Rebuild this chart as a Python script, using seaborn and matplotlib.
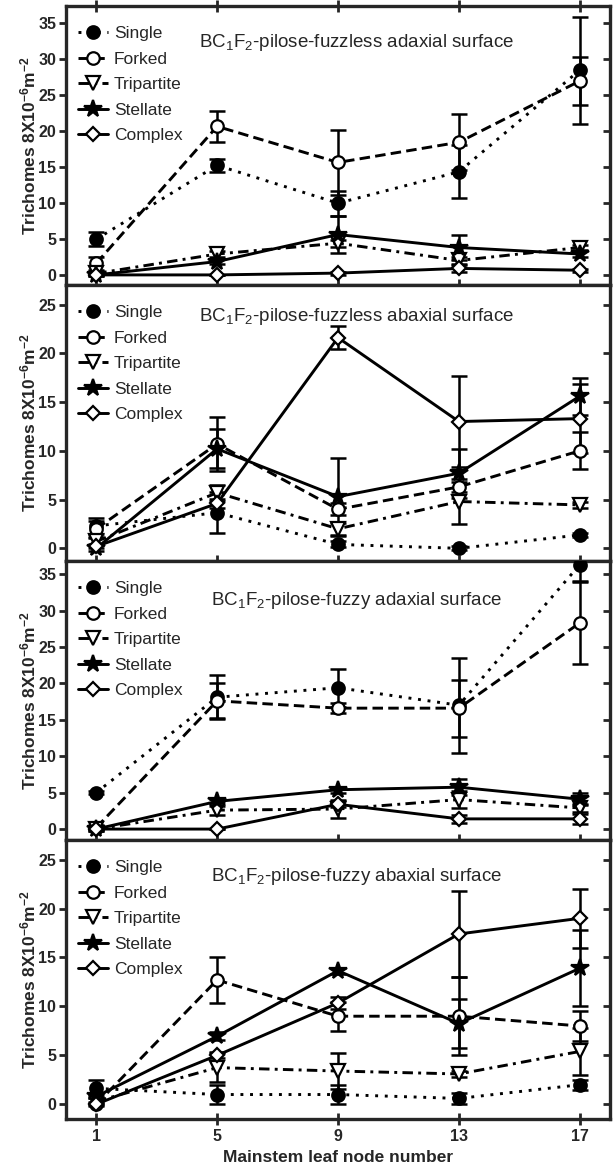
import numpy as np
import pandas as pd
import matplotlib
matplotlib.use("Agg")
import matplotlib.pyplot as plt
import seaborn as sns

sns.set_style("ticks")
plt.rcParams["font.family"] = ["Liberation Sans", "DejaVu Sans"]
plt.rcParams["mathtext.default"] = "regular"

# ---------------- data ----------------
nodes = [1, 5, 9, 13, 17]
types = ["Single", "Forked", "Tripartite", "Stellate", "Complex"]
panel_titles = [
    "BC$_1$F$_2$-pilose-fuzzless adaxial surface",
    "BC$_1$F$_2$-pilose-fuzzless abaxial surface",
    "BC$_1$F$_2$-pilose-fuzzy adaxial surface",
    "BC$_1$F$_2$-pilose-fuzzy abaxial surface",
]
y_ticks = [[0, 5, 10, 15, 20, 25, 30, 35], [0, 5, 10, 15, 20, 25],
           [0, 5, 10, 15, 20, 25, 30, 35], [0, 5, 10, 15, 20, 25]]
y_limits = [(-1.4, 37.3), (-1.3, 27.0), (-1.5, 36.8), (-1.5, 27.0)]

# rows: Single, Forked, Tripartite, Stellate, Complex ; columns: nodes
fuzzless_adaxial_mean = [
    [4.95, 15.2, 9.95, 14.3, 28.4],
    [1.6, 20.6, 15.6, 18.4, 26.9],
    [0.2, 2.9, 4.4, 2.0, 3.8],
    [0.0, 1.85, 5.6, 3.8, 2.9],
    [0.0, 0.0, 0.25, 0.9, 0.65],
]
fuzzless_adaxial_err = [
    [1.0, 0.9, 1.75, 3.7, 7.4],
    [0.9, 2.1, 4.5, 3.9, 3.3],
    [0.3, 0.4, 0.5, 0.5, 0.4],
    [0.2, 0.4, 2.6, 1.7, 0.4],
    [0.0, 0.0, 0.2, 0.5, 0.2],
]
fuzzless_abaxial_mean = [
    [2.3, 3.65, 0.4, 0.0, 1.37],
    [2.0, 10.7, 4.0, 6.3, 10.0],
    [0.7, 5.7, 2.0, 4.8, 4.45],
    [0.0, 10.2, 5.3, 7.7, 15.6],
    [0.2, 4.6, 21.6, 13.0, 13.3],
]
fuzzless_abaxial_err = [
    [0.8, 2.1, 0.3, 0.2, 0.2],
    [0.8, 2.8, 0.6, 0.5, 1.9],
    [0.4, 0.8, 0.6, 2.3, 0.3],
    [0.3, 2.0, 4.0, 2.5, 1.9],
    [0.2, 0.5, 1.2, 4.7, 3.5],
]
fuzzy_adaxial_mean = [
    [5.0, 18.1, 19.4, 17.0, 36.3],
    [0.2, 17.6, 16.6, 16.6, 28.3],
    [0.0, 2.6, 2.75, 4.05, 2.9],
    [0.0, 3.8, 5.4, 5.75, 4.1],
    [0.0, 0.0, 3.4, 1.4, 1.4],
]
fuzzy_adaxial_err = [
    [0.2, 3.0, 2.6, 6.5, 2.3],
    [0.3, 2.4, 0.7, 3.9, 5.6],
    [0.2, 0.6, 1.2, 1.15, 0.5],
    [0.2, 0.3, 0.4, 1.1, 0.8],
    [0.0, 0.0, 0.4, 0.5, 0.7],
]
fuzzy_abaxial_mean = [
    [1.63, 1.0, 1.0, 0.6, 2.0],
    [0.0, 12.7, 9.0, 9.0, 8.0],
    [0.3, 3.75, 3.4, 3.1, 5.4],
    [0.8, 6.95, 13.65, 8.25, 13.9],
    [0.0, 5.0, 10.35, 17.4, 19.0],
]
fuzzy_abaxial_err = [
    [0.9, 1.0, 1.0, 0.6, 0.5],
    [0.2, 2.3, 1.5, 4.0, 1.5],
    [0.3, 1.5, 1.8, 0.3, 2.4],
    [0.2, 0.4, 0.3, 2.5, 3.9],
    [0.1, 0.3, 0.6, 4.4, 3.0],
]
panel_means = [fuzzless_adaxial_mean, fuzzless_abaxial_mean, fuzzy_adaxial_mean, fuzzy_abaxial_mean]
panel_errs = [fuzzless_adaxial_err, fuzzless_abaxial_err, fuzzy_adaxial_err, fuzzy_abaxial_err]

# ---------------- styles ----------------
styles = {
    "Single": dict(marker="o", mfc="black", ms=9, ls=(0, (1, 2.3))),
    "Forked": dict(marker="o", mfc="white", ms=9, ls=(0, (3.6, 1.8))),
    "Tripartite": dict(marker="v", mfc="white", ms=9.5, ls=(0, (3.6, 1.8, 1, 1.8))),
    "Stellate": dict(marker="*", mfc="black", ms=13, ls="-"),
    "Complex": dict(marker="D", mfc="white", ms=7.5, ls="-"),
}

W, H = 613, 1168
fig = plt.figure(figsize=(W / 100, H / 100), dpi=100)
left_px, right_px = 66, 610
bounds = [(6, 285), (285, 561), (561, 840), (840, 1119)]
title_y = [0.87, 0.885, 0.857, 0.87]

for i, (top, bot) in enumerate(bounds):
    ax = fig.add_axes([left_px / W, 1 - bot / H, (right_px - left_px) / W, (bot - top) / H])
    means = panel_means[i]
    errs = panel_errs[i]
    for j, t in enumerate(types):
        st = styles[t]
        df = pd.DataFrame({"node": nodes, "value": means[j]})
        ax.errorbar(nodes, means[j], yerr=errs[j], fmt="none", ecolor="black",
                    elinewidth=1.8, capsize=5.5, capthick=1.8, zorder=2)
        sns.lineplot(data=df, x="node", y="value", ax=ax, color="black",
                     marker=st["marker"], markerfacecolor=st["mfc"],
                     markeredgecolor="black", markeredgewidth=1.6,
                     markersize=st["ms"], linestyle=st["ls"], linewidth=2.1,
                     errorbar=None, label=t, zorder=3)
    ax.set_xlim(0, 18)
    ax.set_ylim(*y_limits[i])
    ax.set_xticks(nodes)
    ax.set_yticks(y_ticks[i])
    for s in ax.spines.values():
        s.set_linewidth(2.4)
        s.set_visible(True)
    ax.tick_params(axis="y", which="both", left=True, right=True, direction="out",
                   length=5, width=2, labelsize=11.5, pad=2)
    ax.tick_params(axis="y", right=True, labelright=False)
    for tl in ax.yaxis.get_ticklines()[1::2]:
        tl.set_marker(matplotlib.lines.TICKLEFT)
    ax.tick_params(axis="x", direction="inout", length=9, width=2, labelsize=11.5,
                   bottom=True, top=(i == 0), pad=3)
    for lab in ax.get_xticklabels() + ax.get_yticklabels():
        lab.set_fontweight("bold")
    if i < 3:
        ax.tick_params(axis="x", labelbottom=False)
        ax.set_xlabel("")
    else:
        ax.set_xlabel("Mainstem leaf node number", fontsize=12.5, fontweight="bold", labelpad=4)
    ax.set_ylabel("Trichomes 8X10$^{-6}$m$^{-2}$", fontsize=12.5, fontweight="bold")
    ax.yaxis.set_label_coords(-0.05, 0.5)
    ax.text(0.535, title_y[i], panel_titles[i], transform=ax.transAxes, ha="center",
            va="center", fontsize=13.5)
    leg = ax.legend(loc="upper left", bbox_to_anchor=(-0.014, 1.0), frameon=False,
                    fontsize=12.5, handlelength=1.7, handletextpad=0.35,
                    labelspacing=0.6, borderpad=0.85, borderaxespad=0.3)

fig.savefig("out.png", dpi=100)
